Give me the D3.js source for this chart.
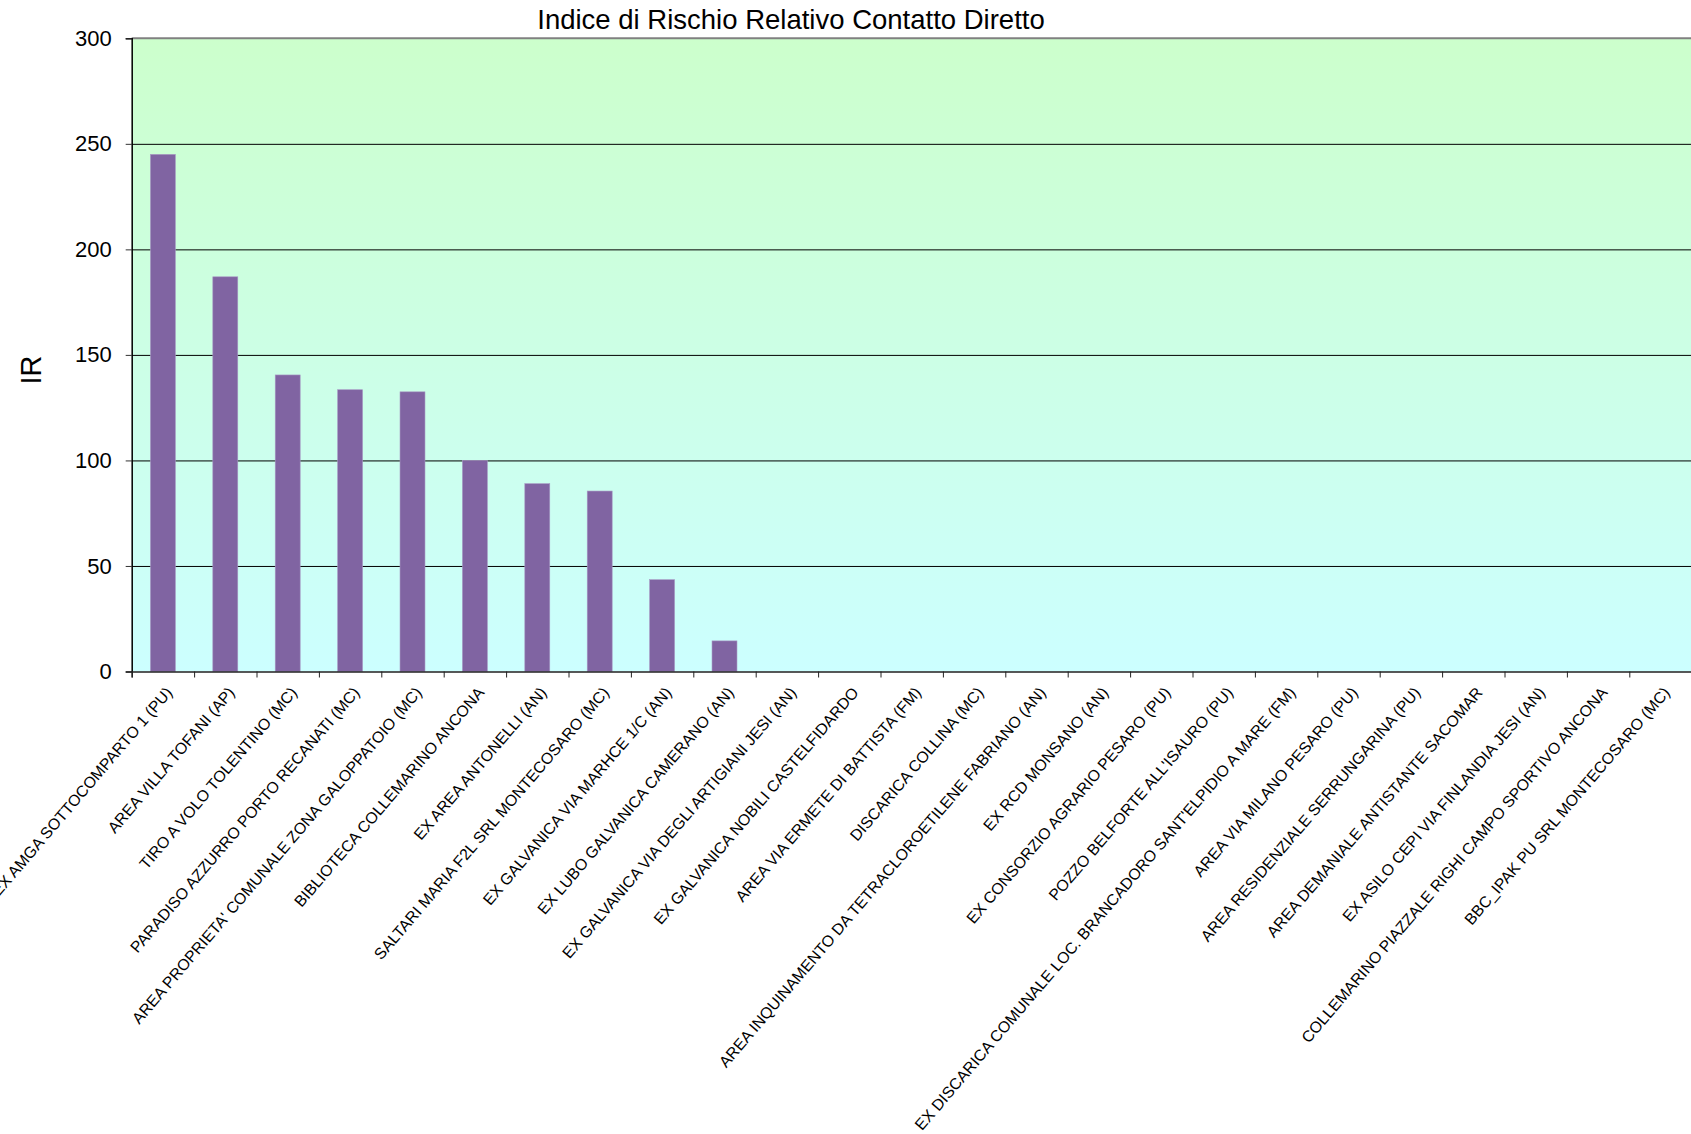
<!DOCTYPE html>
<html>
<head>
<meta charset="utf-8">
<script src="https://cdn.jsdelivr.net/npm/d3@7"></script>
<style>
  body { margin: 0; background: #fff; }
  svg { display: block; font-family: Arial, "Liberation Sans", sans-serif; }
</style>
</head>
<body>
<div id="chart"></div>
<script>
// dati
const categories = [
  "EX AMGA SOTTOCOMPARTO 1 (PU)",
  "AREA VILLA TOFANI (AP)",
  "TIRO A VOLO TOLENTINO (MC)",
  "PARADISO AZZURRO PORTO RECANATI (MC)",
  "AREA PROPRIETA' COMUNALE ZONA GALOPPATOIO (MC)",
  "BIBLIOTECA COLLEMARINO ANCONA",
  "EX AREA ANTONELLI (AN)",
  "SALTARI MARIA F2L SRL MONTECOSARO (MC)",
  "EX GALVANICA VIA MARHCE 1/C (AN)",
  "EX LUBO GALVANICA CAMERANO (AN)",
  "EX GALVANICA VIA DEGLI ARTIGIANI JESI (AN)",
  "EX GALVANICA NOBILI CASTELFIDARDO",
  "AREA VIA ERMETE DI BATTISTA (FM)",
  "DISCARICA COLLINA (MC)",
  "AREA INQUINAMENTO DA TETRACLOROETILENE FABRIANO (AN)",
  "EX RCD MONSANO (AN)",
  "EX CONSORZIO AGRARIO PESARO (PU)",
  "POZZO BELFORTE ALL'ISAURO (PU)",
  "EX DISCARICA COMUNALE LOC. BRANCADORO SANT'ELPIDIO A MARE (FM)",
  "AREA VIA MILANO PESARO (PU)",
  "AREA RESIDENZIALE SERRUNGARINA (PU)",
  "AREA DEMANIALE ANTISTANTE SACOMAR",
  "EX ASILO CEPI VIA FINLANDIA JESI (AN)",
  "COLLEMARINO PIAZZALE RIGHI CAMPO SPORTIVO ANCONA",
  "BBC_IPAK PU SRL MONTECOSARO (MC)"
];
const irValues = [245, 187, 140.5, 133.5, 132.5, 100, 89, 85.5, 43.5, 14.5,
                  0, 0, 0, 0, 0, 0, 0, 0, 0, 0, 0, 0, 0, 0, 0];
const yTicks = [0, 50, 100, 150, 200, 250, 300];
const chartTitle = "Indice di Rischio Relativo Contatto Diretto";
const yTitle = "IR";

const width = 1691, height = 1134;
const plotLeft = 131.7, plotRight = 1691.7, plotTop = 38.3, plotBottom = 671.5;

const svg = d3.select("#chart").append("svg").attr("width", width).attr("height", height);

const x = d3.scaleBand().domain(categories).range([plotLeft, plotRight]).paddingInner(0.6).paddingOuter(0.3);
const xEdge = d3.scaleLinear().domain([0, categories.length]).range([plotLeft, plotRight]);
const y = d3.scaleLinear().domain([0, 300]).range([plotBottom, plotTop]);

// sfondo sfumato
const grad = svg.append("defs").append("linearGradient").attr("id", "bg")
  .attr("x1", 0).attr("y1", 0).attr("x2", 0).attr("y2", 1);
grad.append("stop").attr("offset", "0%").attr("stop-color", "#ccffcc");
grad.append("stop").attr("offset", "100%").attr("stop-color", "#ccffff");

svg.append("rect").attr("x", plotLeft).attr("y", plotTop)
  .attr("width", plotRight - plotLeft).attr("height", plotBottom - plotTop)
  .attr("fill", "url(#bg)");

// griglia
svg.append("g").attr("transform", `translate(${plotLeft},0)`)
  .call(d3.axisLeft(y).tickValues(yTicks.filter(d => d > 0 && d < 300)).tickSize(-(plotRight - plotLeft)).tickFormat(""))
  .call(g => g.select(".domain").remove())
  .call(g => g.selectAll("line").attr("stroke", "#000").attr("stroke-width", 1));

// bordo superiore
svg.append("line").attr("x1", plotLeft).attr("x2", plotRight).attr("y1", y(300)).attr("y2", y(300))
  .attr("stroke", "#808080").attr("stroke-width", 2);

// barre
svg.append("g").selectAll("rect").data(irValues).join("rect")
  .attr("x", (d, i) => x(categories[i]))
  .attr("width", x.bandwidth())
  .attr("y", d => y(d))
  .attr("height", d => y(0) - y(d))
  .attr("fill", "#8064a2")
  .attr("stroke", "#a898c4")
  .attr("stroke-width", 0.6);

// asse Y
svg.append("g").attr("transform", `translate(${plotLeft},0)`)
  .call(d3.axisLeft(y).tickValues(yTicks).tickSize(6).tickPadding(14))
  .call(g => g.select(".domain").attr("stroke", "#000").attr("stroke-width", 1.5))
  .call(g => g.selectAll("line").attr("stroke", "#333"))
  .call(g => g.selectAll("text").attr("font-size", 22).attr("fill", "#000").attr("font-family", "Arial, 'Liberation Sans', sans-serif"));

// asse X: tacche ai bordi delle categorie
svg.append("g").attr("transform", `translate(0,${plotBottom})`)
  .call(d3.axisBottom(xEdge).tickValues(d3.range(categories.length + 1)).tickSize(6).tickFormat(""))
  .call(g => g.select(".domain").attr("stroke", "#222").attr("stroke-width", 1.5))
  .call(g => g.selectAll("line").attr("stroke", "#222"));

// etichette categorie ruotate
svg.append("g").attr("transform", `translate(0,${plotBottom})`)
  .call(d3.axisBottom(x).tickSize(0))
  .call(g => g.select(".domain").remove())
  .call(g => g.selectAll("text")
    .attr("x", 0).attr("y", 0).attr("dy", "0.35em")
    .attr("text-anchor", "end")
    .attr("transform", "translate(6,18) rotate(-49.5)")
    .attr("font-size", 15.8).attr("fill", "#000")
    .attr("font-family", "Arial, 'Liberation Sans', sans-serif"));

// titoli
svg.append("text").attr("x", 791).attr("y", 29).attr("text-anchor", "middle")
  .attr("font-size", 27.5).text(chartTitle);

svg.append("text").attr("transform", "translate(41,370) rotate(-90)").attr("text-anchor", "middle")
  .attr("font-size", 29).text(yTitle);
</script>
</body>
</html>
